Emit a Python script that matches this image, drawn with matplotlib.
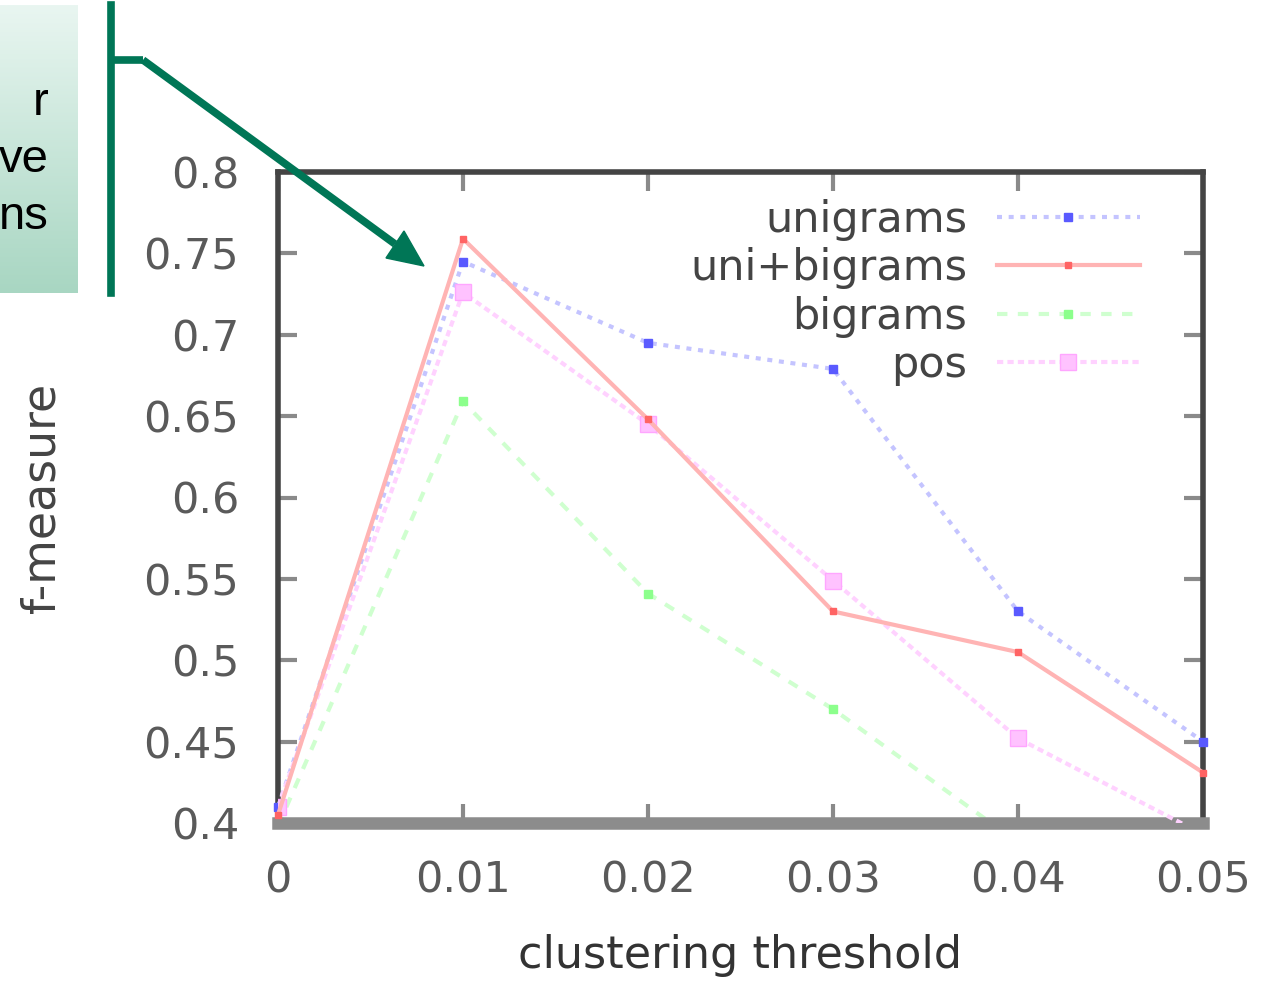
"""
f-measure vs clustering threshold, gnuplot-style, with the green callout
"""
# %%
import numpy as np
import matplotlib.pyplot as plt
from matplotlib.lines import Line2D

# %%
# data
THRESH = [0, 0.01, 0.02, 0.03, 0.04, 0.05]
UNIGRAMS = [0.41, 0.745, 0.695, 0.679, 0.530, 0.450]
UNI_BIGRAMS = [0.405, 0.759, 0.648, 0.530, 0.505, 0.431]
BIGRAMS = [0.398, 0.659, 0.541, 0.470, 0.388, 0.370]
POS = [0.41, 0.726, 0.645, 0.549, 0.452, 0.393]

Y_TICKS = [0.4, 0.45, 0.5, 0.55, 0.6, 0.65, 0.7, 0.75, 0.8]
Y_TICK_LABELS = ["0.4", "0.45", "0.5", "0.55", "0.6", "0.65", "0.7", "0.75", "0.8"]
X_TICK_LABELS = ["0", "0.01", "0.02", "0.03", "0.04", "0.05"]

W, H = 1261, 981
TEAL = "#007656"
GRAY_TXT = "#5a5a5a"

# %%
fig = plt.figure(figsize=(W / 100, H / 100), dpi=100)

def fx(px):
    return px / W

def fy(py):
    return 1 - py / H

ax = fig.add_axes([fx(278), fy(823), fx(1203) - fx(278), fy(172) - fy(823)])
ax.set_xlim(0, 0.05)
ax.set_ylim(0.4, 0.8)

ax.plot(THRESH, UNIGRAMS, color="#c4c4ff", lw=3, ls=(0, (1.2, 1.6)),
        marker="s", ms=6, mfc="#5a5aff", mec="#5a5aff", label="unigrams", clip_on=False, zorder=3)
ax.plot(THRESH, UNI_BIGRAMS, color="#ffb4b4", lw=3, ls="-",
        marker="s", ms=5, mfc="#ff6464", mec="#ff6464", label="uni+bigrams", clip_on=False, zorder=4)
ax.plot(THRESH, BIGRAMS, color="#cfffcf", lw=3, ls=(0, (2.5, 2.5)),
        marker="s", ms=6, mfc="#8cff8c", mec="#8cff8c", label="bigrams", zorder=2)
ax.plot(THRESH, POS, color="#ffd2ff", lw=3, ls=(0, (1.5, 1)),
        marker="s", ms=12, mfc="#ffc2ff", mec="#ffa6ff", label="pos", zorder=3)

ax.set_xticks(THRESH)
ax.set_xticklabels(X_TICK_LABELS)
ax.set_yticks(Y_TICKS)
ax.set_yticklabels(Y_TICK_LABELS)
ax.tick_params(direction="in", length=14, width=3, color="#8a8a8a",
               top=True, right=True, labelsize=31, labelcolor=GRAY_TXT, pad=28)
ax.tick_params(axis="x", pad=26)
for side in ["left", "top", "right"]:
    ax.spines[side].set_linewidth(4)
    ax.spines[side].set_color("#444444")
ax.spines["bottom"].set_linewidth(9)
ax.spines["bottom"].set_color("#8c8c8c")

ax.set_xlabel("clustering threshold", fontsize=32, color="#333333", labelpad=24)
fig.text(fx(42), fy(498), "f-measure", rotation=90, fontsize=33,
         color="#444444", ha="center", va="center")

leg = ax.legend(loc="upper right", frameon=False, markerfirst=False, fontsize=31,
                handlelength=3.3, handletextpad=0.7, labelspacing=0.15,
                borderaxespad=0.0, bbox_to_anchor=(0.95, 0.985))
for t in leg.get_texts():
    t.set_color("#444444")

# %%
# callout box with gradient (cut off at the left edge)
box_ax = fig.add_axes([0, fy(293), fx(78), fy(5) - fy(293)])
grad = np.linspace(0, 1, 256)[:, None]
top = np.array([233, 246, 241]) / 255
bot = np.array([168, 214, 194]) / 255
img = top[None, None, :] * (1 - grad[..., None]) + bot[None, None, :] * grad[..., None]
box_ax.imshow(img, aspect="auto", extent=[0, 1, 0, 1])
box_ax.axis("off")
for txt, py in [("r", 103), ("ve", 160), ("ns", 217)]:
    fig.text(fx(49), fy(py), txt, fontsize=34, family="Liberation Sans",
             ha="right", va="center", color="black")

# bracket + arrow
fig.add_artist(Line2D([fx(111), fx(111)], [fy(5), fy(293)], color=TEAL, lw=5.5,
                      transform=fig.transFigure))
fig.add_artist(Line2D([fx(111), fx(143)], [fy(60), fy(60)], color=TEAL, lw=5.5,
                      transform=fig.transFigure, solid_capstyle="butt"))
fig.add_artist(Line2D([fx(143), fx(395)], [fy(60), fy(244)], color=TEAL, lw=5.5,
                      transform=fig.transFigure, solid_capstyle="butt"))
fig.patches.append(plt.Polygon([[fx(424), fy(266)], [fx(386), fy(258)], [fx(404), fy(231)]],
                               closed=True, color=TEAL, transform=fig.transFigure))

fig.savefig("out.png", dpi=100)
